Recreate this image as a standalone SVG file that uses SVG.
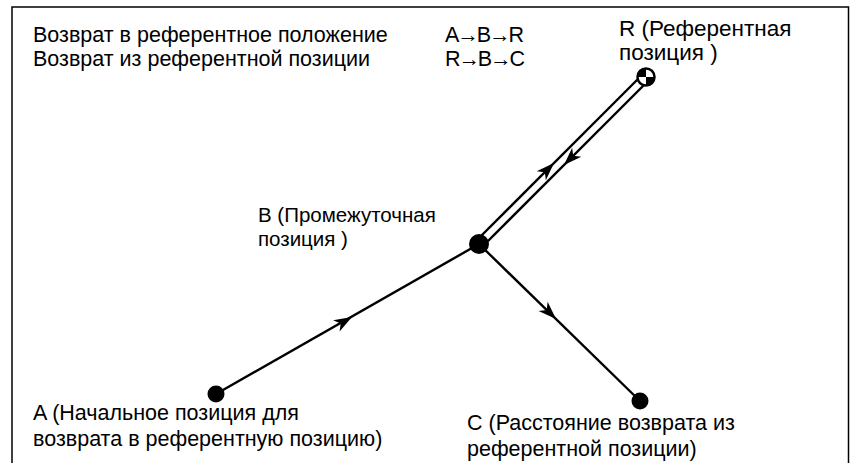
<svg xmlns="http://www.w3.org/2000/svg" xmlns:xlink="http://www.w3.org/1999/xlink" width="850" height="463" viewBox="0 0 850 463">
<style>
text{font-family:"Liberation Sans",Arial,sans-serif;font-size:21.5px;fill:#000}
.ln{stroke:#000;stroke-width:2.4;fill:none}
.dot{fill:#000}
</style>
<defs>
<path id="ah" d="M0,0 L-18,-6.5 L-13,0 L-18,6.5 Z" fill="#000"/>
</defs>
<rect x="12" y="7" width="836.5" height="480" fill="#fff" stroke="#000" stroke-width="1.5"/>
<g id="legend">
<text x="33" y="42">Возврат в референтное положение</text>
<text x="33" y="66">Возврат из референтной позиции</text>
<text x="445" y="42" textLength="79" lengthAdjust="spacing">A→B→R</text>
<text x="445" y="66" textLength="80" lengthAdjust="spacing">R→B→C</text>
</g>
<g id="connectors">
<line class="ln" x1="216" y1="394" x2="479" y2="244"/>
<line class="ln" x1="479" y1="244" x2="640" y2="401"/>
<line class="ln" x1="476" y1="241" x2="643" y2="74"/>
<line class="ln" x1="482" y1="247" x2="649" y2="80"/>
<use xlink:href="#ah" transform="translate(352,317) rotate(-29.7)"/>
<use xlink:href="#ah" transform="translate(556,319) rotate(44.3)"/>
<use xlink:href="#ah" transform="translate(554,163) rotate(-45)"/>
<use xlink:href="#ah" transform="translate(564,165) rotate(135)"/>
</g>
<g id="nodeA">
<circle class="dot" cx="216" cy="394" r="8.5"/>
<text x="33" y="420">A (Начальное позиция для</text>
<text x="33" y="446">возврата в референтную позицию)</text>
</g>
<g id="nodeB">
<circle class="dot" cx="479" cy="244" r="10"/>
<text x="258" y="222" style="font-size:20.5px">B (Промежуточная</text>
<text x="258" y="246" style="font-size:20.5px">позиция )</text>
</g>
<g id="nodeC">
<circle class="dot" cx="640" cy="401" r="8.5"/>
<text x="467" y="430">C (Расстояние возврата из</text>
<text x="467" y="456">референтной позиции)</text>
</g>
<g id="nodeR">
<circle cx="646" cy="77" r="8.5" fill="#fff" stroke="#000" stroke-width="2.5"/>
<path d="M646,77 L646,68.5 A8.5,8.5 0 0 0 637.5,77 Z" fill="#000"/>
<path d="M646,77 L646,85.5 A8.5,8.5 0 0 0 654.5,77 Z" fill="#000"/>
<text x="619" y="36" style="font-size:22.5px">R (Референтная</text>
<text x="619" y="60" style="font-size:22.5px">позиция )</text>
</g>
</svg>
